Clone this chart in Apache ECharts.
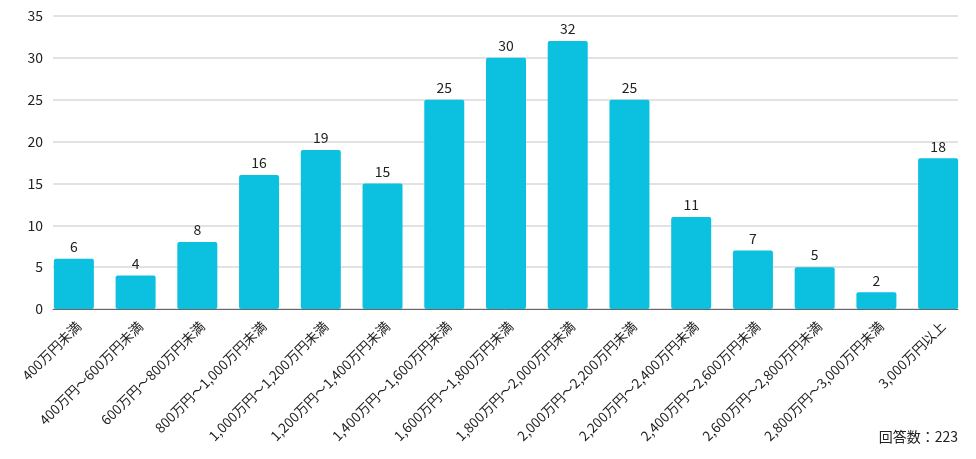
<!DOCTYPE html>
<html>
<head>
<meta charset="utf-8">
<script src="https://cdn.jsdelivr.net/npm/echarts@6/dist/echarts.min.js"></script>
<style>
  html, body { margin: 0; padding: 0; background: #fff; }
  #chart { width: 976px; height: 459px; }
</style>
</head>
<body>
<div id="chart"></div>
<script>
// 年収区分
var categories = [
    '400万円未満', '400万円～600万円未満', '600万円～800万円未満', '800万円～1,000万円未満',
    '1,000万円～1,200万円未満', '1,200万円～1,400万円未満', '1,400万円～1,600万円未満',
    '1,600万円～1,800万円未満', '1,800万円～2,000万円未満', '2,000万円～2,200万円未満',
    '2,200万円～2,400万円未満', '2,400万円～2,600万円未満', '2,600万円～2,800万円未満',
    '2,800万円～3,000万円未満', '3,000万円以上'
];
var counts = [6, 4, 8, 16, 19, 15, 25, 30, 32, 25, 11, 7, 5, 2, 18];
var yTicks = [0, 5, 10, 15, 20, 25, 30, 35];
var totalLabel = '回答数：223';

var font = '"Noto Sans CJK JP", "Noto Sans", sans-serif';
var myChart = echarts.init(document.getElementById('chart'));
myChart.setOption({
    animation: false,
    textStyle: { fontFamily: font },
    // grid 0: 棒グラフ, grid 1: 目盛り線と y 軸ラベル
    grid: [
        { left: 43, right: 7, top: 16, bottom: 150 },
        { left: 53, right: 18, top: 16, bottom: 150 }
    ],
    graphic: [{
        type: 'text',
        right: 18,
        top: 430,
        style: { text: totalLabel, font: '14px ' + font, fill: '#222' }
    }],
    xAxis: [{
        type: 'category',
        gridIndex: 0,
        data: categories,
        axisTick: { show: false },
        axisLine: { show: false },
        axisLabel: {
            rotate: 45, interval: 0, color: '#222', fontSize: 13.5, margin: 10,
            align: 'right', verticalAlign: 'top', fontFamily: font
        }
    }, {
        type: 'value',
        gridIndex: 1,
        min: 0,
        max: 1,
        axisLabel: { show: false },
        axisTick: { show: false },
        splitLine: { show: false },
        axisLine: { show: true, lineStyle: { color: '#666', width: 1 } }
    }],
    yAxis: [{
        type: 'value',
        gridIndex: 0,
        min: yTicks[0],
        max: yTicks[yTicks.length - 1],
        interval: 5,
        show: false,
        splitLine: { show: false }
    }, {
        type: 'value',
        gridIndex: 1,
        min: yTicks[0],
        max: yTicks[yTicks.length - 1],
        interval: 5,
        axisLine: { show: false },
        axisTick: { show: false },
        axisLabel: { color: '#222', fontSize: 14, margin: 10, fontFamily: font },
        splitLine: { lineStyle: { color: '#d9d9d9', width: 1.5 } }
    }],
    series: [{
        type: 'bar',
        xAxisIndex: 0,
        yAxisIndex: 0,
        data: counts,
        barWidth: 40,
        z: 3,
        itemStyle: { color: '#0cc0df', borderRadius: 2 },
        label: { show: true, position: 'top', color: '#222', fontSize: 14, distance: 5, fontFamily: font }
    }]
});
</script>
</body>
</html>
